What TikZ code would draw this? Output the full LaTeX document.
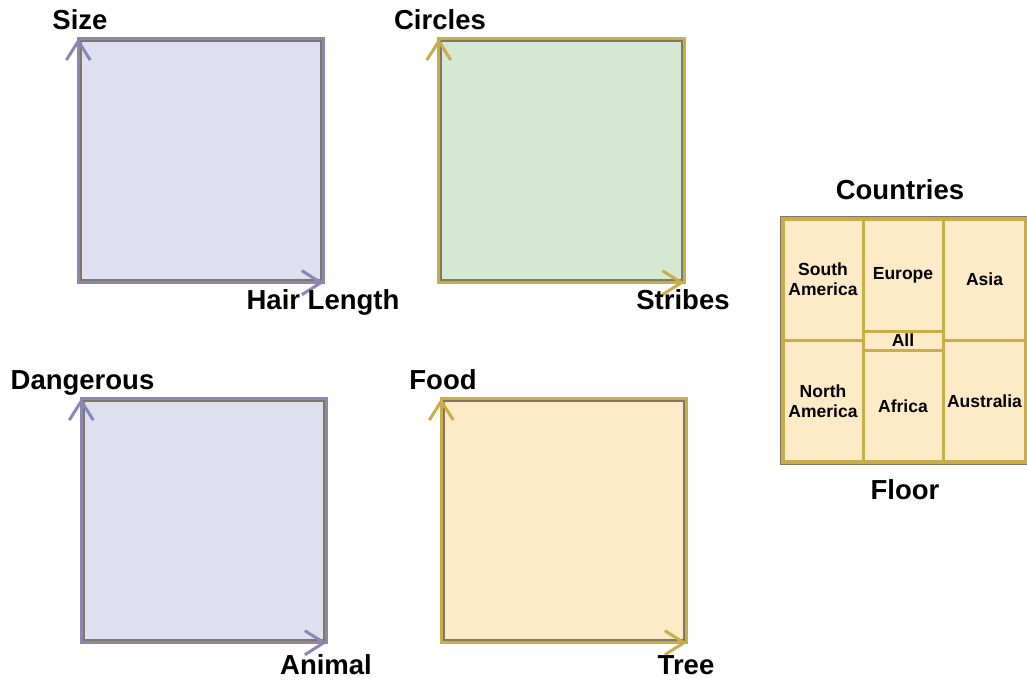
\documentclass[tikz,border=0pt]{standalone}
\usepackage{fontspec}
\setmainfont{Liberation Sans}
\usetikzlibrary{arrows.meta}
\definecolor{purp}{HTML}{8A87B5}
\definecolor{gold}{HTML}{C8AD4A}
\definecolor{lav}{HTML}{DEDFF1}
\definecolor{lav2}{HTML}{DEE0EF}
\definecolor{mint}{HTML}{D5E8D4}
\definecolor{pap}{HTML}{FDEBC8}
\definecolor{edge}{HTML}{807860}
\tikzset{
  lbl/.style={font=\bfseries\fontsize{27.5}{29}\selectfont, inner sep=0pt, text height=20pt, text depth=5pt},
  quad/.style={rectangle, draw=edge, line width=3.4pt, minimum width=242pt, minimum height=241pt, inner sep=0pt},
  axis/.style={line width=3pt, -{Straight Barb[length=19pt,width=24pt,line width=3pt]}},
  cell/.style={rectangle, draw=gold, fill=pap, line width=3pt, inner sep=0pt, align=center,
     font=\bfseries\fontsize{17.5}{20}\selectfont},
}
\begin{document}
\begin{tikzpicture}[x=1pt,y=-1pt]
\useasboundingbox (0,0) rectangle (1027,690);
% quadrant boxes
\node[quad, fill=lav] (b1) at (201,160.5) {};
\node[quad, fill=mint] (b2) at (561.5,160.5) {};
\node[quad, fill=lav2] (b3) at (204,520.5) {};
\node[quad, fill=pap] (b4) at (564,520.5) {};
\draw[purp, line width=2.8pt] (b1.south west) rectangle (b1.north east);
\draw[gold, line width=2.8pt] (b2.south west) rectangle (b2.north east);
\draw[purp, line width=2.8pt] (b3.south west) rectangle (b3.north east);
\draw[gold, line width=2.8pt] (b4.south west) rectangle (b4.north east);
% axes
\draw[axis, purp] (b1.south west) -- (b1.north west);
\draw[axis, purp] (b1.south west) -- (b1.south east);
\draw[axis, gold] (b2.south west) -- (b2.north west);
\draw[axis, gold] (b2.south west) -- (b2.south east);
\draw[axis, purp] (b3.south west) -- (b3.north west);
\draw[axis, purp] (b3.south west) -- (b3.south east);
\draw[axis, gold] (b4.south west) -- (b4.north west);
\draw[axis, gold] (b4.south west) -- (b4.south east);
% labels
\node[lbl] (l1y) at (80,22) {Size};
\node[lbl] (l1x) at (323,302) {Hair Length};
\node[lbl] (l2y) at (440,22) {Circles};
\node[lbl] (l2x) at (683,302) {Stribes};
\node[lbl] (l3y) at (82.5,382) {Dangerous};
\node[lbl] (l3x) at (326,667) {Animal};
\node[lbl] (l4y) at (443,382) {Food};
\node[lbl] (l4x) at (686,667) {Tree};
% countries
\node[lbl] (ct) at (900,192) {Countries};
\node[lbl] (fl) at (905,492) {Floor};
\draw[edge, line width=5.5pt] (783,219) rectangle (1026,462);
\draw[gold, line width=4.5pt, fill=pap] (783,219) rectangle (1026,462);
\node[cell, minimum width=80pt, minimum height=121pt] (sa) at (823,279.5) {South\\America};
\node[cell, minimum width=80pt, minimum height=122pt] (na) at (823,401) {North\\America};
\node[cell, minimum width=80pt, minimum height=112pt] (eu) at (903,275) {Europe};
\node[cell, minimum width=80pt, minimum height=19pt] (al) at (903,340.5) {All};
\node[cell, minimum width=80pt, minimum height=112pt] (af) at (903,406) {Africa};
\node[cell, minimum width=83pt, minimum height=121pt] (as) at (984.5,279.5) {Asia};
\node[cell, minimum width=83pt, minimum height=122pt] (au) at (984.5,401) {Australia};
\draw[gold, line width=4.5pt] (783,219) rectangle (1026,462);
\end{tikzpicture}
\end{document}
